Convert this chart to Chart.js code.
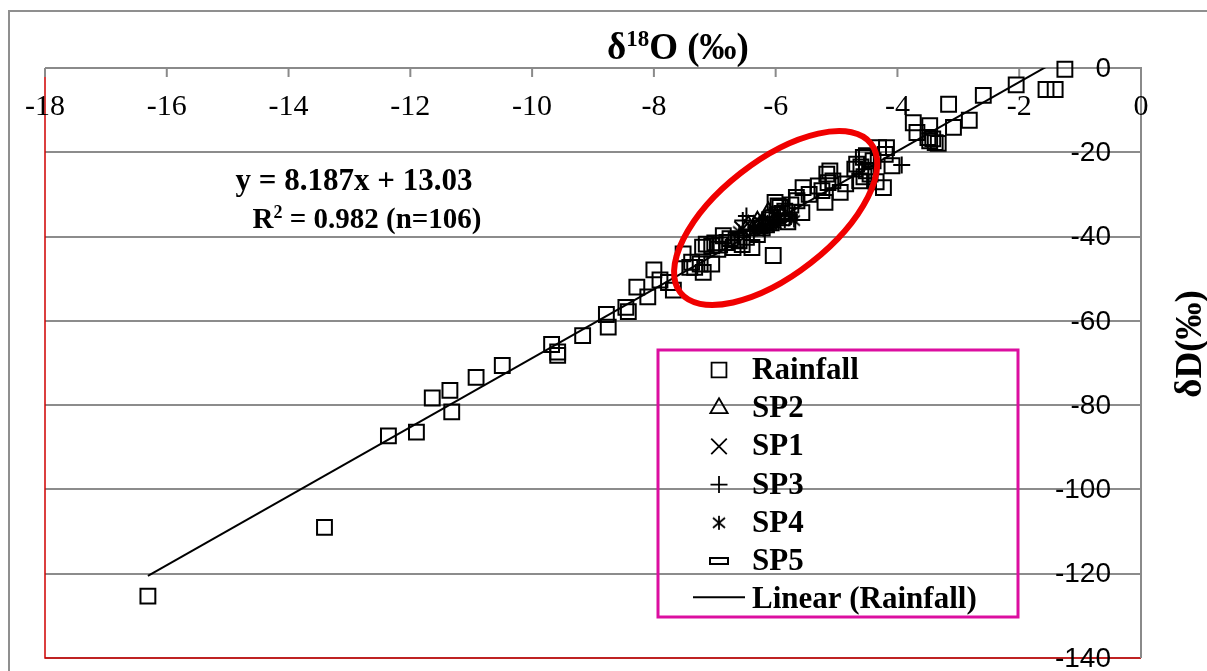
<!DOCTYPE html>
<html>
<head>
<meta charset="utf-8">
<script src="https://cdn.jsdelivr.net/npm/chart.js@4.4.1/dist/chart.umd.min.js"></script>
<style>
  html, body { margin: 0; padding: 0; background: #fff; overflow: hidden; }
</style>
</head>
<body>
<canvas id="chart" width="1207" height="671"></canvas>
<script>
// Rainfall isotopes (δ18O, δD)
const rainX = [-16.31, -13.41, -12.36, -11.90, -11.64, -11.35, -11.32, -10.92, -10.49, -9.68,
  -9.58, -9.58, -9.17, -8.78, -8.75, -8.46, -8.42, -8.28, -8.10, -8.00,
  -7.90, -7.76, -7.68, -7.52, -7.41, -7.38, -7.33, -7.24, -7.20, -7.19,
  -7.14, -7.05, -7.05, -7.00, -6.95, -6.92, -6.86, -6.80, -6.75, -6.70,
  -6.65, -6.60, -6.55, -6.48, -6.39, -6.30, -6.25, -6.22, -6.15, -6.10,
  -6.05, -6.04, -6.01, -5.98, -5.96, -5.93, -5.90, -5.85, -5.80, -5.75,
  -5.66, -5.65, -5.57, -5.55, -5.45, -5.30, -5.24, -5.19, -5.16, -5.14,
  -5.11, -5.06, -4.94, -4.85, -4.70, -4.67, -4.62, -4.60, -4.56, -4.55,
  -4.51, -4.51, -4.45, -4.40, -4.35, -4.31, -4.23, -4.20, -4.18, -4.09,
  -3.74, -3.68, -3.50, -3.47, -3.47, -3.42, -3.38, -3.33, -3.16, -3.08,
  -2.82, -2.59, -2.05, -1.56, -1.41, -1.25];
const rainY = [-125.3, -109.0, -87.3, -86.4, -78.3, -76.5, -81.6, -73.4, -70.6, -65.6,
  -67.4, -68.2, -63.5, -58.5, -61.5, -56.8, -57.8, -52.0, -54.3, -47.9,
  -50.3, -50.9, -52.7, -44.1, -47.3, -46.1, -47.3, -46.5, -42.5, -48.5,
  -41.8, -46.5, -42.2, -41.5, -43.0, -42.0, -39.8, -41.4, -40.5, -42.6,
  -40.8, -41.0, -41.9, -40.2, -42.6, -39.5, -37.5, -38.0, -37.2, -36.0,
  -35.5, -44.5, -31.9, -34.8, -32.7, -33.1, -34.5, -34.0, -36.5, -32.5,
  -30.7, -31.5, -34.3, -28.4, -30.0, -28.0, -29.1, -31.9, -25.2, -27.2,
  -24.4, -26.8, -29.5, -27.5, -24.0, -22.8, -26.8, -23.5, -21.2, -25.8,
  -20.8, -24.4, -25.2, -22.0, -27.0, -18.9, -28.4, -20.5, -18.9, -23.2,
  -13.0, -15.3, -16.5, -13.7, -17.3, -16.8, -17.7, -17.9, -8.6, -14.1,
  -12.4, -6.5, -4.0, -5.1, -5.1, -0.3];

// springs
const sp2X = [-6.12, -6.30, -6.00, -6.45, -5.90, -6.20];
const sp2Y = [-34.3, -36.5, -35.8, -37.5, -35.0, -37.0];
const sp1X = [-6.40, -6.25, -6.10, -5.95, -6.55, -5.80];
const sp1Y = [-37.8, -36.8, -36.5, -35.5, -38.2, -34.8];
const sp3X = [-6.48, -6.54, -3.93, -6.20, -6.05, -5.85];
const sp3Y = [-35.1, -36.2, -23.0, -38.0, -37.0, -36.0];
const sp4X = [-6.35, -6.15, -6.00, -5.75, -6.60, -5.70];
const sp4Y = [-38.5, -37.5, -37.0, -35.6, -38.8, -36.2];
const sp5X = [-6.30, -6.10, -5.92, -6.45, -5.80];
const sp5Y = [-38.0, -37.8, -36.6, -39.0, -35.5];

// linear fit of rainfall
const slope = 8.187;
const intercept = 13.03;
const trendX = [-16.31, -1.25];

const xTicks = [-18, -16, -14, -12, -10, -8, -6, -4, -2, 0];
const yTicks = [0, -20, -40, -60, -80, -100, -120, -140];

function pts(xs, ys) {
  return xs.map((x, i) => ({ x: x, y: ys[i] }));
}

// custom markers
function makeStar() {
  const c = document.createElement('canvas');
  c.width = 18; c.height = 18;
  const g = c.getContext('2d');
  g.strokeStyle = '#000';
  g.lineWidth = 1.8;
  g.beginPath();
  g.moveTo(9, 2); g.lineTo(9, 16);
  g.moveTo(3, 4); g.lineTo(15, 14);
  g.moveTo(15, 4); g.lineTo(3, 14);
  g.stroke();
  return c;
}
function makeDash() {
  const c = document.createElement('canvas');
  c.width = 22; c.height = 10;
  const g = c.getContext('2d');
  g.strokeStyle = '#000';
  g.lineWidth = 2;
  g.strokeRect(2, 2, 18, 6);
  return c;
}
const starImg = makeStar();
const dashImg = makeDash();

const SERIF = '"Liberation Serif", "Times New Roman", serif';
const SANS = '"Liberation Sans", Arial, sans-serif';

function scatterSet(label, data, style, radius) {
  return {
    label: label,
    data: data,
    pointStyle: style,
    pointRadius: radius,
    pointBorderWidth: 2,
    borderColor: '#000',
    backgroundColor: 'rgba(0,0,0,0)',
    pointHoverRadius: radius,
    showLine: false,
    clip: false
  };
}

// text with superscript pieces: [text, isSup]
function drawSup(ctx, parts, cx, cy, size) {
  let w = 0;
  parts.forEach(p => {
    ctx.font = 'bold ' + (p[1] ? size * 0.62 : size) + 'px ' + SERIF;
    p.w = ctx.measureText(p[0]).width;
    w += p.w;
  });
  let x = cx - w / 2;
  ctx.textAlign = 'left';
  ctx.textBaseline = 'alphabetic';
  parts.forEach(p => {
    ctx.font = 'bold ' + (p[1] ? size * 0.62 : size) + 'px ' + SERIF;
    ctx.fillText(p[0], x, cy + (p[1] ? -size * 0.36 : 0));
    x += p.w;
  });
}

const decor = {
  id: 'decor',
  beforeDatasetsDraw(chart) {
    const ctx = chart.ctx;
    const a = chart.chartArea;
    const xs = chart.scales.x, ys = chart.scales.y;
    ctx.save();
    // outer chart frame
    ctx.strokeStyle = '#8f8f8f';
    ctx.lineWidth = 2;
    ctx.beginPath();
    ctx.moveTo(9, 680); ctx.lineTo(9, 11); ctx.lineTo(1220, 11);
    ctx.stroke();
    // plot border (red) left and bottom
    ctx.strokeStyle = '#d00000';
    ctx.lineWidth = 1.5;
    ctx.beginPath();
    ctx.moveTo(a.left, a.top); ctx.lineTo(a.left, a.bottom); ctx.lineTo(a.right, a.bottom);
    ctx.stroke();
    // axes at y=0 (top) and x=0 (right)
    ctx.strokeStyle = '#8a8a8a';
    ctx.lineWidth = 2;
    ctx.beginPath();
    ctx.moveTo(a.left, a.top); ctx.lineTo(a.right, a.top); ctx.lineTo(a.right, a.bottom);
    xTicks.forEach(v => {
      const px = xs.getPixelForValue(v);
      ctx.moveTo(px, a.top); ctx.lineTo(px, a.top + 9);
    });
    ctx.stroke();
    // tick labels
    ctx.fillStyle = '#000';
    ctx.font = '30px ' + SERIF;
    ctx.textAlign = 'center';
    ctx.textBaseline = 'middle';
    xTicks.forEach(v => {
      ctx.fillText(String(v), xs.getPixelForValue(v), a.top + 39);
    });
    ctx.font = '28px ' + SANS;
    ctx.textAlign = 'right';
    yTicks.forEach(v => {
      ctx.fillText(String(v), a.right - 30, ys.getPixelForValue(v) + 1);
    });
    ctx.restore();
  },
  afterDatasetsDraw(chart) {
    const ctx = chart.ctx;
    const xs = chart.scales.x, ys = chart.scales.y;
    ctx.save();
    ctx.fillStyle = '#000';
    // axis titles
    drawSup(ctx, [['δ', 0], ['18', 1], ['O (‰)', 0]], 678, 59, 37);
    ctx.save();
    ctx.translate(1201, 344);
    ctx.rotate(-Math.PI / 2);
    ctx.font = 'bold 37px ' + SERIF;
    ctx.textAlign = 'center';
    ctx.textBaseline = 'alphabetic';
    ctx.fillText('δD(‰)', 0, 0);
    ctx.restore();
    // equation
    ctx.font = 'bold 31px ' + SERIF;
    ctx.textAlign = 'center';
    ctx.textBaseline = 'middle';
    ctx.fillText('y = 8.187x + 13.03', 354, 182);
    drawSup(ctx, [['R', 0], ['2', 1], [' = 0.982 (n=106)', 0]], 367, 228, 29);
    // red ellipse around spring samples
    ctx.strokeStyle = '#f00000';
    ctx.lineWidth = 6;
    ctx.beginPath();
    ctx.ellipse(xs.getPixelForValue(-6.0), ys.getPixelForValue(-35.6), 121, 57, -38 * Math.PI / 180, 0, Math.PI * 2);
    ctx.stroke();
    // legend
    ctx.strokeStyle = '#dc0ea0';
    ctx.lineWidth = 3;
    ctx.strokeRect(658, 350, 360, 267);
    const sets = chart.data.datasets;
    const order = [0, 2, 1, 3, 4, 5, 6];
    ctx.font = 'bold 31px ' + SERIF;
    ctx.textAlign = 'left';
    ctx.textBaseline = 'alphabetic';
    order.forEach((di, i) => {
      const ds = sets[di];
      const base = 379 + i * 38.2;
      ctx.fillStyle = '#000';
      ctx.fillText(ds.label, 752, base);
      ctx.strokeStyle = '#000';
      ctx.fillStyle = 'rgba(0,0,0,0)';
      if (ds.type === 'line') {
        ctx.lineWidth = 2;
        ctx.beginPath();
        ctx.moveTo(693, base - 11); ctx.lineTo(745, base - 11);
        ctx.stroke();
      } else {
        ctx.lineWidth = 1.8;
        Chart.helpers.drawPoint(ctx, {
          pointStyle: ds.pointStyle,
          radius: ds.pointRadius,
          borderWidth: 1.8,
          rotation: 0
        }, 719, base - 9);
      }
    });
    ctx.restore();
  }
};

const ctx = document.getElementById('chart').getContext('2d');
new Chart(ctx, {
  type: 'scatter',
  data: {
    datasets: [
      scatterSet('Rainfall', pts(rainX, rainY), 'rect', 10.5),
      scatterSet('SP1', pts(sp1X, sp1Y), 'crossRot', 11),
      scatterSet('SP2', pts(sp2X, sp2Y), 'triangle', 10),
      scatterSet('SP3', pts(sp3X, sp3Y), 'cross', 8.5),
      scatterSet('SP4', pts(sp4X, sp4Y), starImg, 9),
      scatterSet('SP5', pts(sp5X, sp5Y), dashImg, 9),
      {
        type: 'line',
        label: 'Linear (Rainfall)',
        data: trendX.map(x => ({ x: x, y: slope * x + intercept })),
        borderColor: '#000',
        borderWidth: 2,
        pointRadius: 0,
        fill: false,
        tension: 0
      }
    ]
  },
  options: {
    responsive: false,
    animation: false,
    events: [],
    layout: { padding: { left: 45, top: 68, right: 66, bottom: 13 } },
    plugins: {
      legend: { display: false },
      title: { display: false },
      tooltip: { enabled: false }
    },
    scales: {
      x: {
        type: 'linear',
        position: 'top',
        min: -18,
        max: 0,
        ticks: { display: false, stepSize: 2 },
        grid: { display: false, drawTicks: false },
        border: { display: false }
      },
      y: {
        type: 'linear',
        position: 'right',
        min: -140,
        max: 0,
        ticks: { display: false, stepSize: 20 },
        grid: { color: '#8c8c8c', lineWidth: 2, drawTicks: false },
        border: { display: false }
      }
    }
  },
  plugins: [decor]
});
</script>
</body>
</html>
